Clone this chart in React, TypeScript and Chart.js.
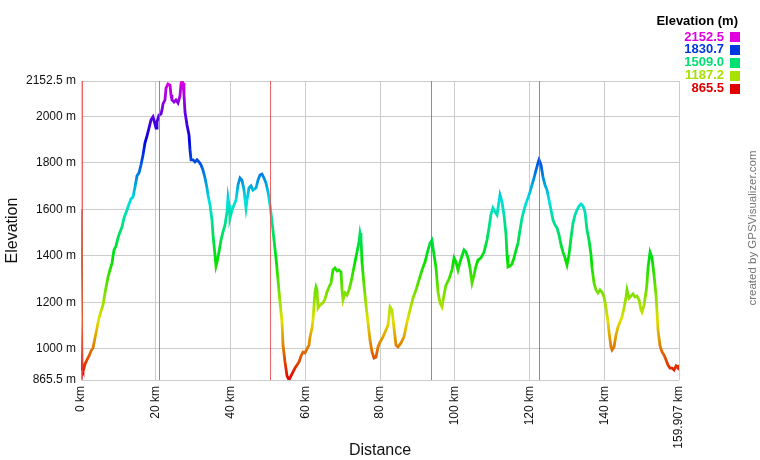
import { useEffect, useRef } from "react";
import { Chart, registerables } from "chart.js";

Chart.register(...registerables);

// Track profile: distance (km) and elevation (m)
const distanceKm = [
  0, 0.05, 0.27, 0.53, 0.8, 1.07, 1.6, 2.14, 2.67, 3.21, 3.74, 4.28, 4.81, 5.35, 5.88, 6.42, 7.22, 7.75, 8.29, 8.82,
  9.36, 9.89, 10.43, 10.96, 11.5, 12.3, 12.84, 13.37, 13.91, 14.44, 14.97, 15.51, 16.04, 16.58, 17.11, 17.65, 18.18, 18.72, 19.25, 19.79,
  20.06, 20.32, 20.86, 21.39, 21.66, 21.93, 22.46, 22.73, 23.26, 23.8, 24.07, 24.33, 24.87, 25.4, 25.94, 26.47, 26.74, 27.01, 27.28, 27.54,
  27.81, 28.35, 28.88, 29.15, 29.42, 29.95, 30.48, 31.02, 31.55, 32.09, 32.62, 33.16, 33.69, 33.96, 34.5, 35.03, 35.3, 35.83, 36.1, 36.37,
  36.9, 37.44, 37.97, 38.51, 39.04, 39.31, 39.58, 39.84, 40.38, 40.91, 41.45, 41.98, 42.52, 43.05, 43.59, 44.12, 44.39, 44.92, 45.46, 45.99,
  46.8, 47.33, 47.87, 48.4, 48.94, 49.47, 50.01, 50.54, 51.08, 51.61, 52.14, 52.68, 53.21, 53.75, 54.02, 54.55, 55.09, 55.62, 56.16, 56.69,
  57.23, 57.76, 58.3, 58.83, 59.37, 59.9, 60.43, 60.97, 61.24, 61.77, 62.04, 62.57, 62.84, 63.11, 63.38, 63.91, 64.71, 65.25, 65.78, 66.32,
  66.85, 67.39, 67.92, 68.46, 68.99, 69.53, 69.8, 70.06, 70.6, 71.13, 71.67, 72.2, 72.74, 73.27, 73.8, 74.34, 74.61, 74.87, 75.14, 75.68,
  76.21, 76.75, 77.28, 77.82, 78.35, 78.89, 79.42, 79.96, 80.76, 81.56, 82.09, 82.63, 83.16, 83.7, 84.23, 84.77, 85.57, 86.37, 87.18, 87.98,
  88.78, 89.58, 90.38, 91.19, 91.99, 92.79, 93.33, 93.86, 94.4, 94.93, 95.47, 96.0, 96.54, 97.07, 97.6, 98.41, 99.21, 99.75, 100.28, 100.81,
  101.35, 101.88, 102.42, 102.95, 103.49, 104.02, 104.56, 105.09, 105.63, 106.16, 106.96, 107.77, 108.57, 109.1, 109.64, 110.17, 110.71, 111.24, 111.51, 112.04,
  112.58, 113.11, 113.65, 113.92, 114.18, 114.72, 115.25, 115.79, 116.32, 116.86, 117.39, 117.93, 118.46, 119.0, 119.53, 120.07, 120.6, 121.14, 121.67, 122.21,
  122.48, 123.01, 123.54, 124.08, 124.61, 125.15, 125.68, 126.22, 126.75, 127.29, 127.82, 128.36, 128.89, 129.43, 129.96, 130.5, 131.03, 131.57, 132.1, 132.64,
  133.17, 133.71, 134.24, 134.77, 135.31, 135.84, 136.38, 136.65, 137.18, 137.72, 138.25, 138.79, 139.32, 139.86, 140.39, 140.93, 141.19, 141.73, 142.0, 142.53,
  143.06, 143.6, 144.13, 144.67, 145.2, 145.74, 146.01, 146.54, 147.08, 147.61, 148.15, 148.68, 149.22, 149.75, 150.02, 150.55, 151.09, 151.36, 151.62, 152.16,
  152.69, 153.23, 153.76, 154.03, 154.3, 154.83, 155.37, 155.9, 156.44, 156.97, 157.51, 158.04, 158.58, 159.11, 159.65, 159.907,
];

const elevationM = [
  1602, 1468, 913, 904, 917, 934, 952, 969, 990, 1003, 1046, 1089, 1132, 1162, 1188, 1240, 1309, 1339, 1369, 1425,
  1442, 1477, 1503, 1524, 1563, 1597, 1623, 1645, 1653, 1696, 1744, 1757, 1791, 1834, 1886, 1916, 1950, 1985, 1998, 1967,
  1950, 1976, 2006, 2010, 2028, 2054, 2071, 2122, 2140, 2135, 2092, 2071, 2062, 2071, 2058, 2088, 2140, 2152, 2144, 2092,
  2019, 1963, 1920, 1856, 1813, 1813, 1804, 1813, 1804, 1791, 1769, 1735, 1692, 1662, 1619, 1554, 1490, 1404, 1356, 1373,
  1416, 1468, 1503, 1533, 1589, 1649, 1619, 1563, 1597, 1619, 1640, 1705, 1735, 1726, 1683, 1606, 1640, 1692, 1701, 1683,
  1692, 1726, 1748, 1752, 1735, 1713, 1675, 1619, 1546, 1468, 1391, 1296, 1201, 1115, 1016, 943, 883, 866, 883, 900,
  917, 930, 943, 969, 986, 982, 999, 1016, 1051, 1089, 1124, 1244, 1266, 1253, 1175, 1188, 1197, 1214, 1244, 1266,
  1283, 1339, 1348, 1335, 1339, 1330, 1253, 1210, 1240, 1231, 1253, 1287, 1330, 1373, 1416, 1460, 1498, 1477, 1373, 1274,
  1188, 1111, 1038, 986, 960, 964, 1008, 1029, 1051, 1081, 1102, 1180, 1167, 1089, 1016, 1008, 1025, 1051, 1115, 1167,
  1218, 1253, 1296, 1339, 1373, 1425, 1455, 1468, 1404, 1348, 1244, 1197, 1180, 1231, 1274, 1300, 1339, 1391, 1373, 1339,
  1373, 1399, 1425, 1416, 1391, 1348, 1283, 1317, 1356, 1382, 1391, 1416, 1468, 1520, 1580, 1606, 1589, 1576, 1606, 1662,
  1632, 1576, 1490, 1404, 1352, 1356, 1365, 1391, 1425, 1455, 1511, 1563, 1597, 1627, 1649, 1675, 1705, 1735, 1769, 1800,
  1813, 1791, 1739, 1705, 1683, 1640, 1597, 1554, 1533, 1520, 1490, 1447, 1416, 1391, 1360, 1404, 1477, 1541, 1576, 1597,
  1614, 1623, 1614, 1589, 1511, 1468, 1404, 1348, 1283, 1253, 1240, 1253, 1244, 1223, 1175, 1115, 1072, 1008, 995, 1008,
  1059, 1094, 1115, 1137, 1175, 1223, 1253, 1218, 1227, 1236, 1223, 1227, 1210, 1167, 1158, 1188, 1244, 1283, 1348, 1416,
  1391, 1317, 1231, 1158, 1081, 1012, 986, 973, 952, 930, 917, 917, 909, 926, 917, 930,
];

const xTickKm = [0, 20, 40, 60, 80, 100, 120, 140, 159.907];
const yTickM = [865.5, 1000, 1200, 1400, 1600, 1800, 2000, 2152.5];
const markerKm = [0.27, 20.86, 50.54, 93.6, 122.5];
const legendValues = [2152.5, 1830.7, 1509.0, 1187.2, 865.5];
const minElev = 865.5;
const maxElev = 2152.5;
const maxKm = 159.907;

const FONT = "Arial, 'Liberation Sans', sans-serif";

function elevColor(v: number): string {
  const t = Math.max(0, Math.min(1, (v - minElev) / (maxElev - minElev)));
  const h = t * 300;
  const V = 224;
  const sector = Math.min(4, Math.floor(h / 60));
  const f = h / 60 - sector;
  let r = 0, g = 0, b = 0;
  switch (sector) {
    case 0: r = V; g = V * f; b = 0; break;
    case 1: r = V * (1 - f); g = V; b = 0; break;
    case 2: r = 0; g = V; b = V * f; break;
    case 3: r = 0; g = V * (1 - f); b = V; break;
    default: r = V * f; g = 0; b = V; break;
  }
  return `rgb(${Math.round(r)},${Math.round(g)},${Math.round(b)})`;
}

const overlayPlugin = {
  id: "overlay",
  afterDatasetsDraw(chart: any) {
    const { ctx, chartArea, scales } = chart;
    ctx.save();
    ctx.strokeStyle = "rgba(240,60,60,0.8)";
    ctx.lineWidth = 1;
    for (const km of markerKm) {
      const x = Math.round(scales.x.getPixelForValue(km)) + 0.5;
      ctx.beginPath();
      ctx.moveTo(x, chartArea.top);
      ctx.lineTo(x, chartArea.bottom);
      ctx.stroke();
    }
    ctx.restore();
  },
  afterDraw(chart: any) {
    const { ctx } = chart;
    ctx.save();
    ctx.font = `bold 13px ${FONT}`;
    ctx.textAlign = "right";
    ctx.textBaseline = "middle";
    ctx.fillStyle = "#000";
    ctx.fillText("Elevation (m)", 738, 21);
    legendValues.forEach((v, i) => {
      const cy = 37 + i * 12.9;
      const c = elevColor(v);
      ctx.fillStyle = c;
      ctx.fillText(v.toFixed(1), 724, cy);
      ctx.fillRect(730, Math.round(cy - 5), 10, 10);
    });
    ctx.translate(753, 228);
    ctx.rotate(-Math.PI / 2);
    ctx.font = `11.5px ${FONT}`;
    ctx.textAlign = "center";
    ctx.fillStyle = "#777";
    ctx.fillText("created by GPSVisualizer.com", 0, 0);
    ctx.restore();
  },
};

export default function App() {
  const ref = useRef<HTMLCanvasElement | null>(null);
  useEffect(() => {
    if (!ref.current) return;
    const data = distanceKm.map((d, i) => ({ x: d, y: elevationM[i] }));
    const chart = new Chart(ref.current, {
      type: "line",
      data: {
        datasets: [
          {
            data,
            borderWidth: 2.8,
            pointRadius: 0,
            tension: 0,
            borderColor: (c: any) => {
              const { chart: ch } = c;
              const area = ch.chartArea;
              if (!area) return "red";
              const y0 = ch.scales.y.getPixelForValue(minElev);
              const y1 = ch.scales.y.getPixelForValue(maxElev);
              const g = ch.ctx.createLinearGradient(0, y0, 0, y1);
              for (let i = 0; i <= 60; i++) {
                const t = i / 60;
                g.addColorStop(t, elevColor(minElev + t * (maxElev - minElev)));
              }
              return g;
            },
          },
        ],
      },
      options: {
        responsive: false,
        animation: false,
        events: [],
        layout: { padding: { top: 81, right: 81, left: 0, bottom: 0 } },
        plugins: { legend: { display: false }, tooltip: { enabled: false } },
        scales: {
          x: {
            type: "linear",
            min: 0,
            max: maxKm,
            afterBuildTicks: (s: any) => {
              s.ticks = xTickKm.map((v) => ({ value: v }));
            },
            afterFit: (s: any) => {
              s.height = 80;
            },
            ticks: {
              autoSkip: false,
              minRotation: 90,
              maxRotation: 90,
              padding: 6,
              color: "#111",
              font: { family: FONT, size: 12 },
              callback: (v: any) => `${v} km`,
            },
            grid: { color: "#cccccc", lineWidth: 1, drawTicks: false },
            border: { display: false },
            title: {
              display: true,
              text: "Distance",
              color: "#111",
              font: { family: FONT, size: 16 },
              padding: { top: 0, bottom: 0 },
            },
          },
          y: {
            type: "linear",
            min: minElev,
            max: maxElev,
            afterBuildTicks: (s: any) => {
              s.ticks = yTickM.map((v) => ({ value: v }));
            },
            afterFit: (s: any) => {
              s.width = 81;
            },
            ticks: {
              padding: 5,
              color: "#111",
              font: { family: FONT, size: 12 },
              callback: (v: any) => `${v} m`,
            },
            grid: { color: "#cccccc", lineWidth: 1, drawTicks: false },
            border: { display: false },
            title: {
              display: true,
              text: "Elevation",
              color: "#111",
              font: { family: FONT, size: 16 },
              padding: { top: 3, bottom: 0 },
            },
          },
        },
      },
      plugins: [overlayPlugin],
    });
    return () => chart.destroy();
  }, []);
  return (
    <div style={{ position: "absolute", left: 0, top: 0, width: 760, height: 460, background: "#fff" }}>
      <canvas ref={ref} width={760} height={460} />
    </div>
  );
}
